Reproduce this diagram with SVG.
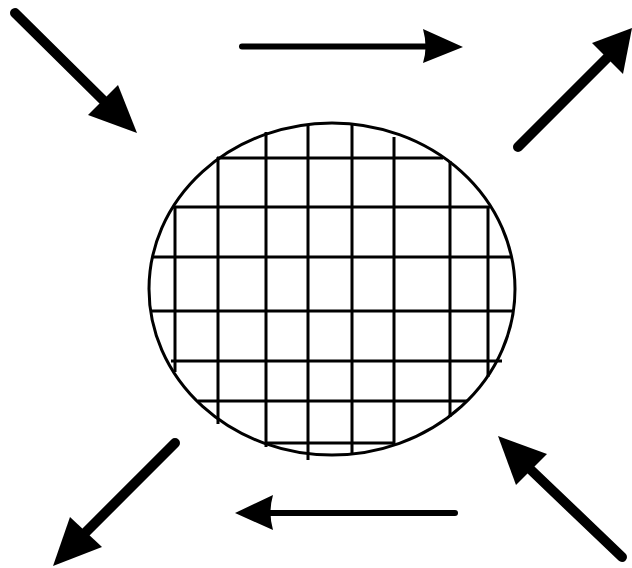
<svg xmlns="http://www.w3.org/2000/svg" width="632" height="568" viewBox="0 0 632 568">
<style>
.grid{stroke:#000;stroke-width:3;fill:none}
.outline{stroke:#000;stroke-width:3;fill:none}
.shaft{stroke:#000;stroke-width:10;stroke-linecap:round;fill:none}
.hshaft{stroke:#000;stroke-width:6;stroke-linecap:round;fill:none}
.head{fill:#000;stroke:none}
</style>
<rect width="632" height="568" fill="#fff"/>
<g id="wafer">
<g class="grid">
<line x1="175" y1="207" x2="175" y2="372"/>
<line x1="218" y1="157" x2="218" y2="424"/>
<line x1="266" y1="132" x2="266" y2="447"/>
<line x1="308" y1="125" x2="308" y2="460"/>
<line x1="352" y1="125" x2="352" y2="453"/>
<line x1="394" y1="137" x2="394" y2="443"/>
<line x1="450" y1="161" x2="450" y2="417"/>
<line x1="488" y1="207" x2="488" y2="377"/>
<line x1="217" y1="158" x2="443" y2="158"/>
<line x1="173" y1="207" x2="490" y2="207"/>
<line x1="153" y1="257" x2="512" y2="257"/>
<line x1="151" y1="311" x2="513" y2="311"/>
<line x1="171" y1="361" x2="502" y2="361"/>
<line x1="198" y1="401" x2="467" y2="401"/>
<line x1="266" y1="443" x2="395" y2="443"/>
</g>
<ellipse class="outline" cx="332" cy="289" rx="183" ry="166"/>
</g>
<g id="connectors">
<g id="arrow-top-left">
<line class="shaft" x1="15" y1="13" x2="103" y2="100"/>
<polygon class="head" points="88,115 118,85 137,133"/>
</g>
<g id="arrow-top">
<line class="hshaft" x1="242" y1="46.5" x2="430" y2="46.5"/>
<path class="head" d="M423,29 Q428,47 423,63 L463,47 Z"/>
</g>
<g id="arrow-top-right">
<line class="shaft" x1="518" y1="147" x2="607" y2="58"/>
<polygon class="head" points="592,43 623,74 632,28"/>
</g>
<g id="arrow-bottom-right">
<line class="shaft" x1="622" y1="557" x2="531" y2="470"/>
<polygon class="head" points="547,454 516,485 498,436"/>
</g>
<g id="arrow-bottom">
<line class="hshaft" x1="455" y1="513" x2="266" y2="513"/>
<path class="head" d="M273,495 Q268,513 273,530 L235,513 Z"/>
</g>
<g id="arrow-bottom-left">
<line class="shaft" x1="175" y1="443" x2="86" y2="532"/>
<polygon class="head" points="70,517 102,547 53,566"/>
</g>
</g>
</svg>
